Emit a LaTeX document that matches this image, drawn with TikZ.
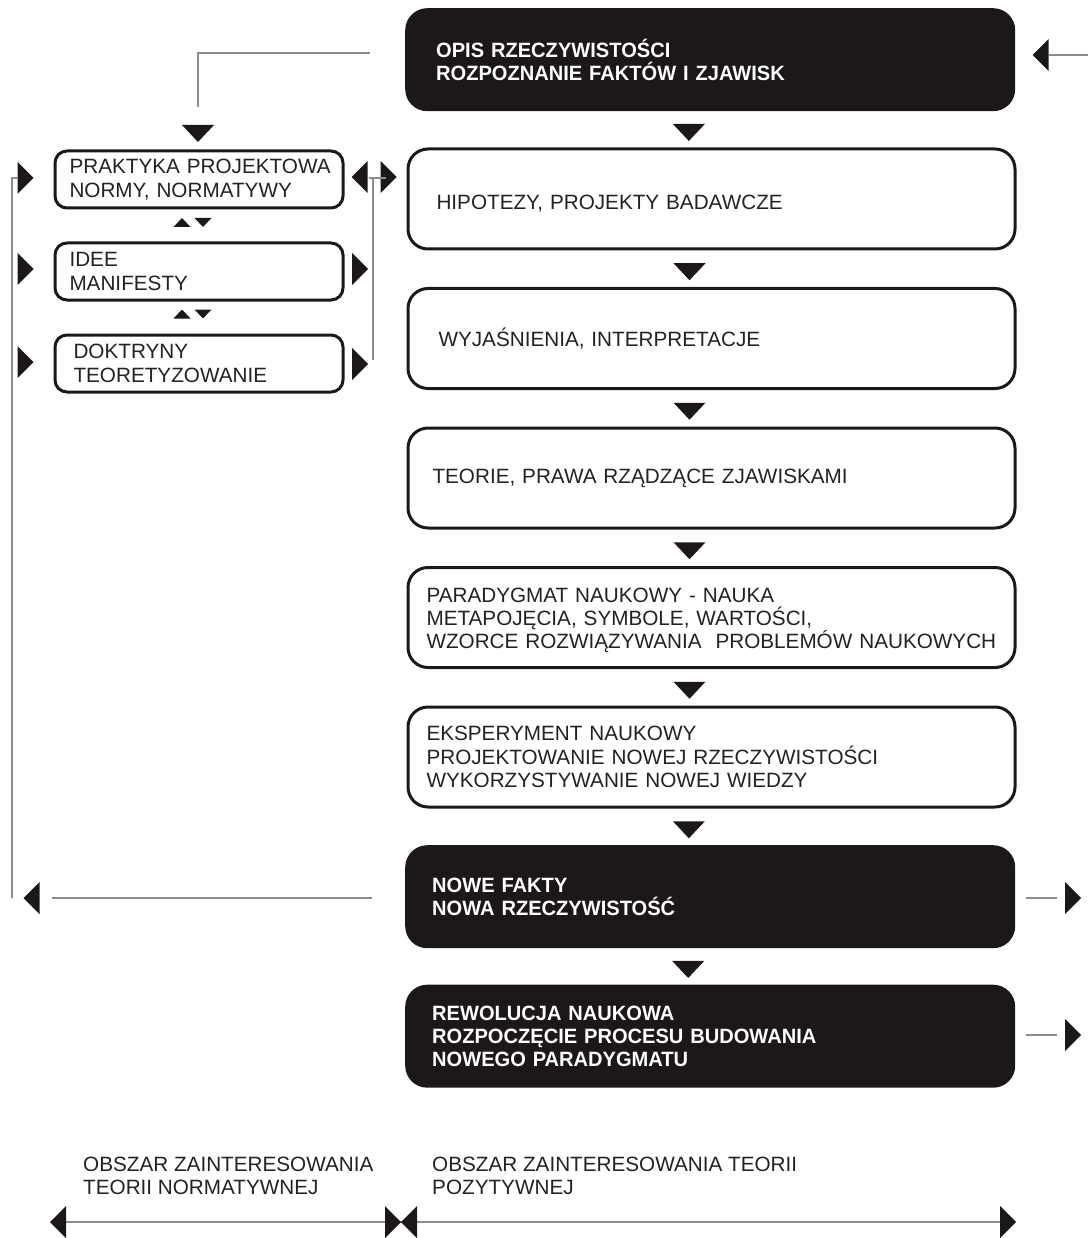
\documentclass[tikz,border=0pt]{standalone}
\usepackage{fontspec}
\setmainfont{Liberation Sans}
\newfontfamily\hdfont[FakeStretch=0.97]{Liberation Sans}
\usetikzlibrary{calc}
\definecolor{ink}{HTML}{1C1818}
\definecolor{txt}{HTML}{222222}
\definecolor{wire}{HTML}{8C8C8C}

\tikzset{
  tri down/.pic={\fill[ink] (-16,-8.5) -- (16,-8.5) -- (0,8.5) -- cycle;},
  tri down small/.pic={\fill[ink] (-8.5,-4.5) -- (8.5,-4.5) -- (0,4.5) -- cycle;},
  tri up small/.pic={\fill[ink] (-8.5,4.5) -- (8.5,4.5) -- (0,-4.5) -- cycle;},
  tri right/.pic={\fill[ink] (-8,-16) -- (-8,16) -- (8,0) -- cycle;},
  tri left/.pic={\fill[ink] (8,-16) -- (8,16) -- (-8,0) -- cycle;},
}

\begin{document}
\begin{tikzpicture}[x=1pt,y=-1pt,
  every node/.style={font=\fontsize{20.7}{23.3}\selectfont, text=txt},
  rbox/.style={draw=ink, line width=3pt, rounded corners=20pt,
    minimum width=607pt, minimum height=100pt, text width=607pt-2*#1pt,
    align=left, inner xsep=#1, inner ysep=0pt, anchor=north west},
  dbox/.style={fill=ink, rounded corners=22pt,
    minimum width=610pt, minimum height=103pt, text width=610pt-2*#1pt,
    align=left, inner xsep=#1, inner ysep=0pt, anchor=north west,
    text=white, font=\fontsize{20.7}{23.3}\hdfont\bfseries},
  lbox/.style={draw=ink, line width=3pt, rounded corners=12pt,
    minimum width=288pt, minimum height=57pt, text width=288pt-2*#1pt,
    align=left, inner xsep=#1, inner ysep=0pt, anchor=north west},
  lbl/.style={align=left, inner sep=0pt, anchor=west},
  gline/.style={draw=wire, line width=1.5pt},
]
\useasboundingbox (0,0) rectangle (1088,1238);

% main column
\node[dbox=31] (b1) at (405,8) {OPIS RZECZYWISTOŚCI\\ROZPOZNANIE FAKTÓW I ZJAWISK};
\node[rbox=28.5] (b2) at (406.5,147.5) {\raisebox{-5pt}[\height][\depth]{HIPOTEZY, PROJEKTY BADAWCZE}};
\node[rbox=30.5] (b3) at (406.5,287) {WYJAŚNIENIA, INTERPRETACJE};
\node[rbox=24.5] (b4) at (406.5,426.5) {TEORIE, PRAWA RZĄDZĄCE ZJAWISKAMI};
\node[rbox=18.5] (b5) at (406.5,566) {\raisebox{-3pt}[\height][\depth]{\parbox[b]{560pt}{PARADYGMAT NAUKOWY - NAUKA\\METAPOJĘCIA, SYMBOLE, WARTOŚCI,\\\mbox{WZORCE ROZWIĄZYWANIA\ \ PROBLEMÓW NAUKOWYCH}}}};
\node[rbox=18.5] (b6) at (406.5,705.5) {EKSPERYMENT NAUKOWY\\PROJEKTOWANIE NOWEJ RZECZYWISTOŚCI\\WYKORZYSTYWANIE NOWEJ WIEDZY};
\node[dbox=27] (b7) at (405,845) {NOWE FAKTY\\NOWA RZECZYWISTOŚĆ};
\node[dbox=27] (b8) at (405,984.5) {REWOLUCJA NAUKOWA\\ROZPOCZĘCIE PROCESU BUDOWANIA\\NOWEGO PARADYGMATU};

% flow markers between the main boxes
\foreach \u/\v in {b1/b2,b2/b3,b3/b4,b4/b5,b5/b6,b6/b7,b7/b8}
  \pic at ($($(\u.south)!0.5!(\v.north)$)+(-22,3)$) {tri down};

% normative column
\node[lbox=14.5] (la) at (53.5,149.5) {\mbox{PRAKTYKA PROJEKTOWA}\\NORMY, NORMATYWY};
\node[lbox=14.5] (lb) at (53.5,241.5) {IDEE\\MANIFESTY};
\node[lbox=18.5] (lc) at (53.5,333.5) {DOKTRYNY\\TEORETYZOWANIE};

\pic at (182,222.5) {tri up small};
\pic at (203,222.5) {tri down small};
\pic at (182,314) {tri up small};
\pic at (203,314) {tri down small};

\pic at (25.5,178) {tri right};
\pic at (25.5,269) {tri right};
\pic at (25.5,362) {tri right};
\pic at (359.5,177) {tri left};
\pic at (388.5,177) {tri right};
\pic at (360,269) {tri right};
\pic at (360,364) {tri right};

% feedback wires
\coordinate (t0) at (370,53);
\coordinate (t1) at (198,107);
\draw[gline] (t0) -| (t1);
\pic at (198,133.5) {tri down};

\coordinate (r0) at (1088,55);
\coordinate (r1) at (1049,55);
\draw[gline] (r0) -- (r1);
\pic at (1040.5,55) {tri left};

\coordinate (m0) at (369,178);
\coordinate (m1) at (386,178);
\coordinate (m2) at (373,360);
\draw[gline] (m0) -- (m1);
\draw[gline] (373,178) -- (m2);

\coordinate (n0) at (372,898);
\coordinate (n1) at (52,898);
\draw[gline] (n0) -- (n1);
\pic at (31.5,898) {tri left};

\coordinate (v0) at (12,898);
\coordinate (v1) at (12,178);
\coordinate (v2) at (18,178);
\draw[gline] (v0) -- (v1) -- (v2);

\coordinate (e0) at (1026,898);
\coordinate (e1) at (1057,898);
\draw[gline] (e0) -- (e1);
\pic at (1073,898) {tri right};
\coordinate (f0) at (1026,1035);
\coordinate (f1) at (1057,1035);
\draw[gline] (f0) -- (f1);
\pic at (1073,1035) {tri right};

% areas of interest
\node[lbl] (nl) at (83,1176) {OBSZAR ZAINTERESOWANIA\\TEORII NORMATYWNEJ};
\node[lbl] (pl) at (432,1176) {OBSZAR ZAINTERESOWANIA TEORII\\POZYTYWNEJ};

\coordinate (s0) at (60,1222);
\coordinate (s1) at (1005,1222);
\draw[gline] (s0) -- (s1);
\pic at (58,1222) {tri left};
\pic at (393,1222) {tri right};
\pic at (409,1222) {tri left};
\pic at (1008,1222) {tri right};
\end{tikzpicture}
\end{document}
